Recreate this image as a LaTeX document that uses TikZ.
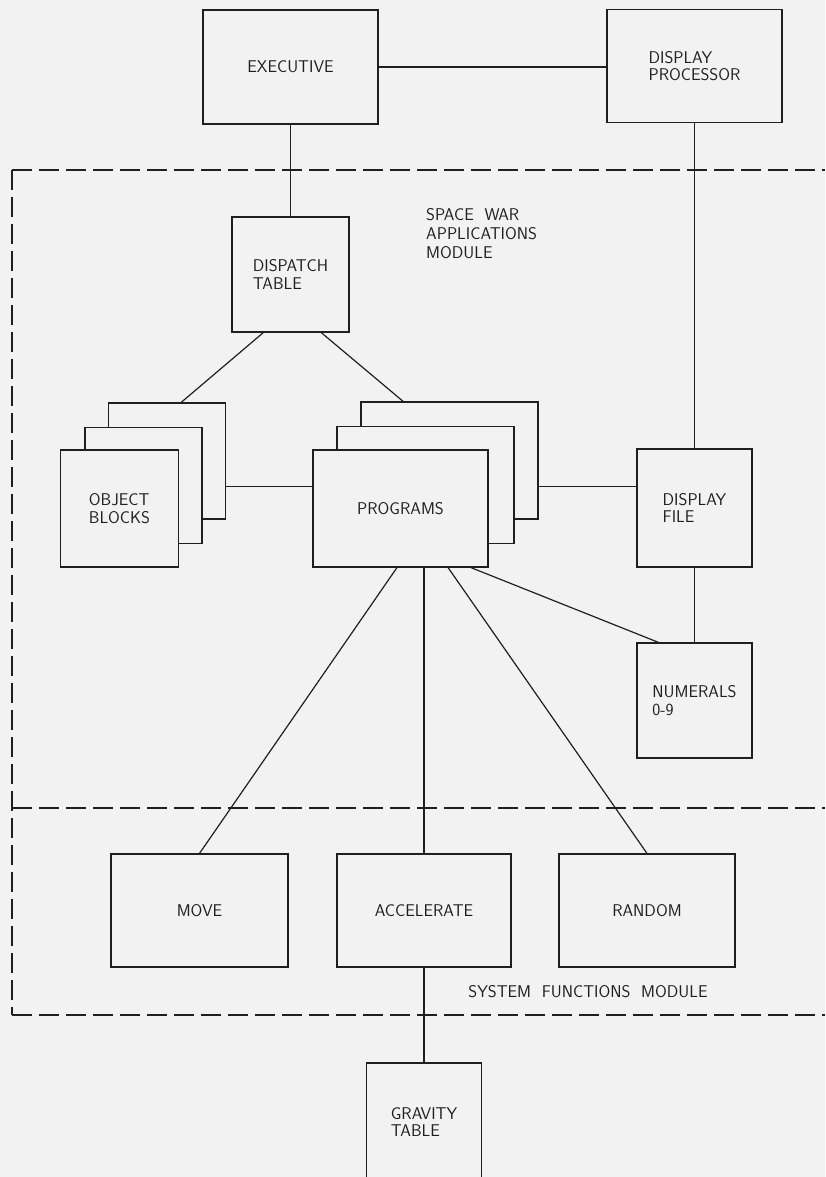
\documentclass[tikz,border=0pt]{standalone}
\usepackage{tikz}
\usetikzlibrary{positioning, calc}

\definecolor{paper}{gray}{0.95}
\definecolor{ink}{gray}{0.12}

\tikzset{
  blk/.style={draw=ink, line width=1.2pt, fill=paper, inner sep=0pt,
    align=left, text=ink, font=\sffamily\fontsize{17}{17.5}\selectfont},
  wire/.style={draw=ink, line width=1.2pt},
  modline/.style={draw=ink, line width=1.4pt, dash pattern=on 20pt off 7pt},
  modlabel/.style={text=ink, inner sep=0pt, align=left,
    font=\sffamily\fontsize{17}{19}\selectfont}
}

\begin{document}
\begin{tikzpicture}[x=1pt, y=-1pt]
  % Paper
  \fill[paper] (0,0) rectangle (825,1177);
  \useasboundingbox (0,0) rectangle (825,1177);

  % Module borders
  \draw[modline] (12,170) -- (825,170);
  \draw[modline] (12,170) -- (12,1015);
  \draw[modline] (12,1015) -- (825,1015);
  \draw[modline] (12,808) -- (825,808);

  % Module labels
  \node[modlabel, anchor=north west] (swlabel) at (426,208) {SPACE\ \ WAR\\APPLICATIONS\\MODULE};
  \node[modlabel] (sflabel) at (588,992) {SYSTEM\ \ FUNCTIONS\ \ MODULE};

  % Top level
  \node[blk, minimum width=175pt, minimum height=114pt] (exec) at (290.5,67) {EXECUTIVE};
  \node[blk, minimum width=175pt, minimum height=113pt] (dproc) at (694.5,66) {DISPLAY\\PROCESSOR};

  % Applications module
  \node[blk, minimum width=117pt, minimum height=115pt] (dispatch) at (290.5,274.5) {DISPATCH\\TABLE};

  % Stacked object blocks
  \node[blk, minimum width=117pt, minimum height=116pt] (obC) at (167,461) {};
  \node[blk, minimum width=117pt, minimum height=116pt] (obB) at (143.5,485.5) {};
  \node[blk, minimum width=118pt, minimum height=117pt] (obA) at (119.5,508.5) {OBJECT\\BLOCKS};

  % Stacked programs
  \node[blk, minimum width=177pt, minimum height=117pt] (prgC) at (449.5,460.5) {};
  \node[blk, minimum width=177pt, minimum height=117pt] (prgB) at (425.5,485) {};
  \node[blk, minimum width=175pt, minimum height=117pt] (prgA) at (400.5,508.5) {PROGRAMS};

  \node[blk, minimum width=115pt, minimum height=118pt] (dfile) at (694.5,508) {DISPLAY\\FILE};
  \node[blk, minimum width=115pt, minimum height=115pt] (nums) at (694.5,700.5) {NUMERALS\\0-9};

  % System functions module
  \node[blk, minimum width=177pt, minimum height=113pt] (move) at (199.5,910.5) {MOVE};
  \node[blk, minimum width=174pt, minimum height=113pt] (accel) at (424,910.5) {ACCELERATE};
  \node[blk, minimum width=176pt, minimum height=113pt] (random) at (647,910.5) {RANDOM};

  % Gravity table (runs off the page)
  \node[blk, minimum width=115pt, minimum height=118pt] (grav) at (424,1122) {GRAVITY\\TABLE};

  % Side points for the horizontal links
  \coordinate (obR) at ($(obC.north east)!0.72!(obC.south east)$);
  \coordinate (prR) at ($(prgC.north east)!0.72!(prgC.south east)$);

  % Connectors
  \draw[wire] (exec.east) -- (exec.east -| dproc.west);
  \draw[wire] (exec.south) -- (dispatch.north);
  \draw[wire] (dproc.south) -- (dfile.north);
  \draw[wire] ($(dispatch.south west)!0.27!(dispatch.south east)$) -- ($(obC.north west)!0.62!(obC.north east)$);
  \draw[wire] ($(dispatch.south west)!0.76!(dispatch.south east)$) -- ($(prgC.north west)!0.24!(prgC.north east)$);
  \draw[wire] (obR) -- (obR -| prgA.west);
  \draw[wire] (prR) -- (prR -| dfile.west);
  \draw[wire] (dfile.south) -- (nums.north);
  \draw[wire] ($(prgA.south west)!0.9!(prgA.south east)$) -- ($(nums.north west)!0.19!(nums.north east)$);
  \draw[wire] ($(prgA.south west)!0.48!(prgA.south east)$) -- (move.north);
  \draw[wire] (accel.north |- prgA.south) -- (accel.north);
  \draw[wire] ($(prgA.south west)!0.77!(prgA.south east)$) -- (random.north);
  \draw[wire] (accel.south) -- (grav.north);
\end{tikzpicture}
\end{document}
